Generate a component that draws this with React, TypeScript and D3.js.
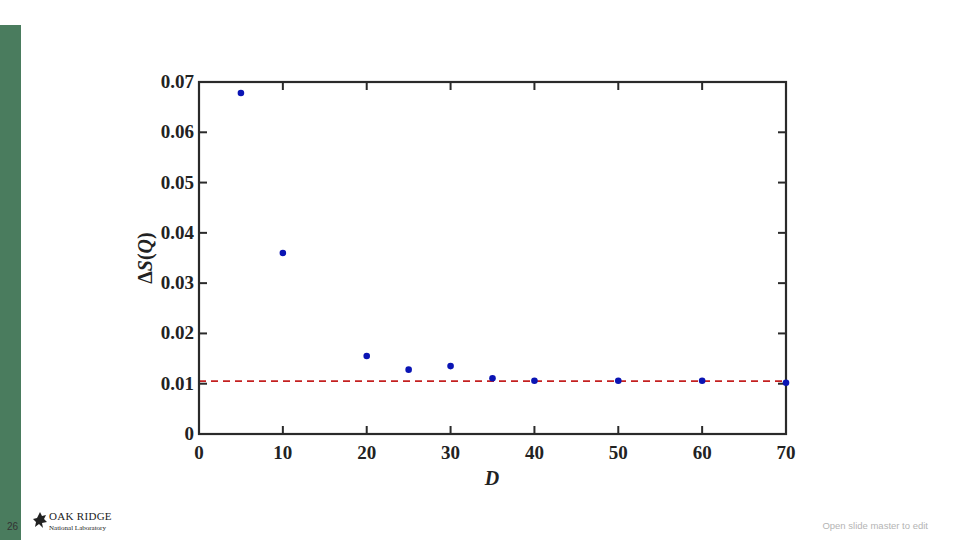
import React from 'react';
import * as d3 from 'd3';

const dValues = [5, 10, 20, 25, 30, 35, 40, 50, 60, 70];
const deltaS = [0.0678, 0.0360, 0.0155, 0.0128, 0.0135, 0.0111, 0.0106, 0.0106, 0.0106, 0.0102];
const xTicks = [0, 10, 20, 30, 40, 50, 60, 70];
const yTicks = [0, 0.01, 0.02, 0.03, 0.04, 0.05, 0.06, 0.07];
const referenceLevel = 0.0105;

export default function App() {
    const width = 960, height = 540;
    const left = 199, right = 786, top = 82, bottom = 434;

    const x = d3.scaleLinear().domain([0, 70]).range([left, right]);
    const y = d3.scaleLinear().domain([0, 0.07]).range([bottom, top]);
    const yFmt = (v: number) => (v === 0 ? '0' : d3.format('.2f')(v));

    const serif = '"Liberation Serif", "Times New Roman", serif';
    const axisColor = '#2a2a2a';
    const tickLen = 8;

    return (
        <div style={{ position: 'absolute', left: 0, top: 0 }}>
            <svg width={width} height={height} style={{ display: 'block', background: '#fff' }}>
                {/* slide side band */}
                <rect x={0} y={25} width={21} height={515} fill="#4a7c5e" />

                {/* reference line */}
                <line x1={x(0)} x2={x(70)} y1={y(referenceLevel)} y2={y(referenceLevel)}
                    stroke="#c42020" strokeWidth={1.7} strokeDasharray="7,5" />

                {/* ticks */}
                {xTicks.slice(1, -1).map(t => (
                    <g key={'xt' + t}>
                        <line x1={x(t)} x2={x(t)} y1={bottom} y2={bottom - tickLen} stroke={axisColor} strokeWidth={2} />
                        <line x1={x(t)} x2={x(t)} y1={top} y2={top + tickLen} stroke={axisColor} strokeWidth={2} />
                    </g>
                ))}
                {yTicks.slice(1, -1).map(t => (
                    <g key={'yt' + t}>
                        <line x1={left} x2={left + tickLen} y1={y(t)} y2={y(t)} stroke={axisColor} strokeWidth={2} />
                        <line x1={right} x2={right - tickLen} y1={y(t)} y2={y(t)} stroke={axisColor} strokeWidth={2} />
                    </g>
                ))}

                {/* frame */}
                <rect x={left} y={top} width={right - left} height={bottom - top}
                    fill="none" stroke={axisColor} strokeWidth={2.2} />

                {/* points */}
                {dValues.map((d, i) => (
                    <circle key={'p' + d} cx={x(d)} cy={y(deltaS[i])} r={3.3} fill="#0a14b4" />
                ))}

                {/* tick labels */}
                {xTicks.map(t => (
                    <text key={'xl' + t} x={x(t)} y={459} textAnchor="middle"
                        fontFamily={serif} fontWeight="bold" fontSize={19} fill="#222">{t}</text>
                ))}
                {yTicks.map(t => (
                    <text key={'yl' + t} x={194} y={y(t) + 6} textAnchor="end"
                        fontFamily={serif} fontWeight="bold" fontSize={19} fill="#222">{yFmt(t)}</text>
                ))}

                {/* axis titles */}
                <text x={492} y={485} textAnchor="middle" fontFamily={serif} fontWeight="bold"
                    fontStyle="italic" fontSize={20} fill="#222">D</text>
                <text transform="translate(152,258) rotate(-90)" textAnchor="middle"
                    fontFamily={serif} fontWeight="bold" fontSize={20} fill="#222">
                    Δ<tspan fontStyle="italic">S</tspan>(<tspan fontStyle="italic">Q</tspan>)
                </text>

                {/* footer */}
                <text x={7} y={530} fontFamily="Arial, 'Liberation Sans', sans-serif" fontSize={10} fill="#333">26</text>
                <g transform="translate(34,512)">
                    <path d="M6,0 L8,4 L12,3 L10,7 L13,10 L8,11 L9,16 L5,12 L1,15 L2,10 L-1,7 L3,6 Z" fill="#222" />
                    <text x={15} y={8} fontFamily={serif} fontSize={11} letterSpacing={0.3} fill="#222">OAK RIDGE</text>
                    <text x={15} y={18} fontFamily={serif} fontSize={7} fill="#222">National Laboratory</text>
                </g>
                <text x={928} y={529} textAnchor="end" fontFamily="Arial, 'Liberation Sans', sans-serif"
                    fontSize={9.5} fill="#b4b4b4">Open slide master to edit</text>
            </svg>
        </div>
    );
}
